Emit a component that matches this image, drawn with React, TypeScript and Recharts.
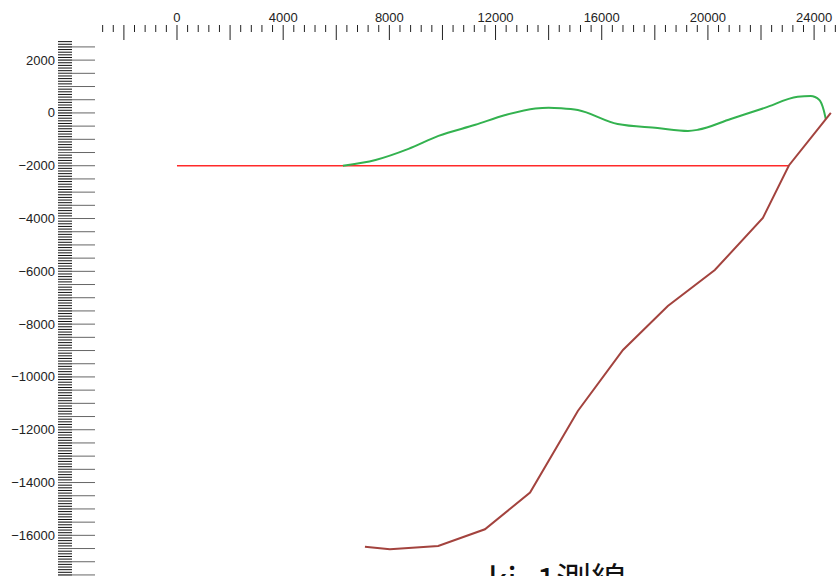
import React from 'react';
import { ComposedChart, Line, XAxis, YAxis } from 'recharts';

// Surface line (green)
const greenX = [6250, 7480, 8720, 9850, 11240, 12370, 13500, 14000, 14470, 15100, 16600, 18100, 19250, 19620, 20860, 22140, 23380, 23870, 24200, 24360, 24440];
const greenY = [-2000, -1780, -1360, -870, -450, -80, 170, 200, 180, 110, -420, -570, -680, -640, -230, 190, 610, 640, 490, 110, -230];

// Horizontal reference (red)
const redX = [0, 23050];
const redY = [-2000, -2000];

// Profile line (brown)
const brownX = [7080, 8020, 9840, 11600, 13300, 15100, 16800, 18490, 20260, 22070, 23050, 24630];
const brownY = [-16430, -16530, -16400, -15770, -14380, -11290, -8980, -7310, -5950, -3980, -1990, 0];

const xLabelTicks = [0, 4000, 8000, 12000, 16000, 20000, 24000];
const yLabelTicks = [2000, 0, -2000, -4000, -6000, -8000, -10000, -12000, -14000, -16000];
const xMinorTicks = Array.from({ length: 70 }, (_, i) => -2800 + i * 400);
const yMinorTicks = Array.from({ length: 203 }, (_, i) => -17500 + i * 100);

const TITLE = 'ki_1測線';

const toPts = (xs: number[], ys: number[]) => xs.map((x, i) => ({ x, y: ys[i] }));
const greenData = toPts(greenX, greenY);
const redData = toPts(redX, redY);
const brownData = toPts(brownX, brownY);

const FONT = '"Liberation Sans", Arial, sans-serif';

const XTick = (props: any) => {
  const { x, y, payload } = props;
  const v = payload.value;
  const long = v % 2000 === 0;
  return (
    <g>
      <line x1={x} x2={x} y1={y - 14} y2={long ? y + 1 : y - 7} stroke="#222" strokeWidth={1} />
      {xLabelTicks.includes(v) && (
        <text x={x} y={y - 17} textAnchor="middle" fontSize={13} fill="#222" fontFamily={FONT}>
          {v}
        </text>
      )}
    </g>
  );
};

const YTick = (props: any) => {
  const { x, y, payload } = props;
  const v = payload.value;
  const long = v % 500 === 0;
  return (
    <g>
      <line x1={x - 42} x2={x - 28} y1={y} y2={y} stroke="#111" strokeWidth={1} />
      {long && <line x1={x - 42} x2={x - 5} y1={y} y2={y} stroke="#666" strokeWidth={1} />}
      {yLabelTicks.includes(v) && (
        <text x={x - 45} y={y} dy="0.35em" textAnchor="end" fontSize={13} fill="#222" fontFamily={FONT}>
          {v < 0 ? '\u2212' + Math.abs(v) : v}
        </text>
      )}
    </g>
  );
};

export default function App() {
  return (
    <div style={{ position: 'absolute', left: 0, top: 0, width: 838, height: 576, overflow: 'hidden', background: '#fff' }}>
      <ComposedChart width={838} height={576} margin={{ top: 0, right: 0, bottom: 0, left: 0 }}>
        <XAxis
          type="number"
          dataKey="x"
          orientation="top"
          domain={[-2900, 24900]}
          allowDataOverflow
          ticks={xMinorTicks}
          interval={0}
          tickSize={0}
          tickMargin={0}
          axisLine={false}
          tickLine={false}
          height={39}
          tick={<XTick />}
        />
        <YAxis
          type="number"
          dataKey="y"
          domain={[-17540, 2800]}
          allowDataOverflow
          ticks={yMinorTicks}
          interval={0}
          tickSize={0}
          tickMargin={0}
          axisLine={false}
          tickLine={false}
          width={100}
          tick={<YTick />}
        />
        <Line data={redData} dataKey="y" type="linear" stroke="#ff2a2a" strokeWidth={1.5} dot={false} isAnimationActive={false} />
        <Line data={greenData} dataKey="y" type="monotone" stroke="#33b24f" strokeWidth={2} dot={false} isAnimationActive={false} />
        <Line data={brownData} dataKey="y" type="linear" stroke="#a3433e" strokeWidth={2} dot={false} isAnimationActive={false} />
        <text x={557} y={593} textAnchor="middle" fontSize={35} fill="#111" fontFamily='"Noto Sans CJK JP", sans-serif'>
          {TITLE}
        </text>
      </ComposedChart>
    </div>
  );
}
